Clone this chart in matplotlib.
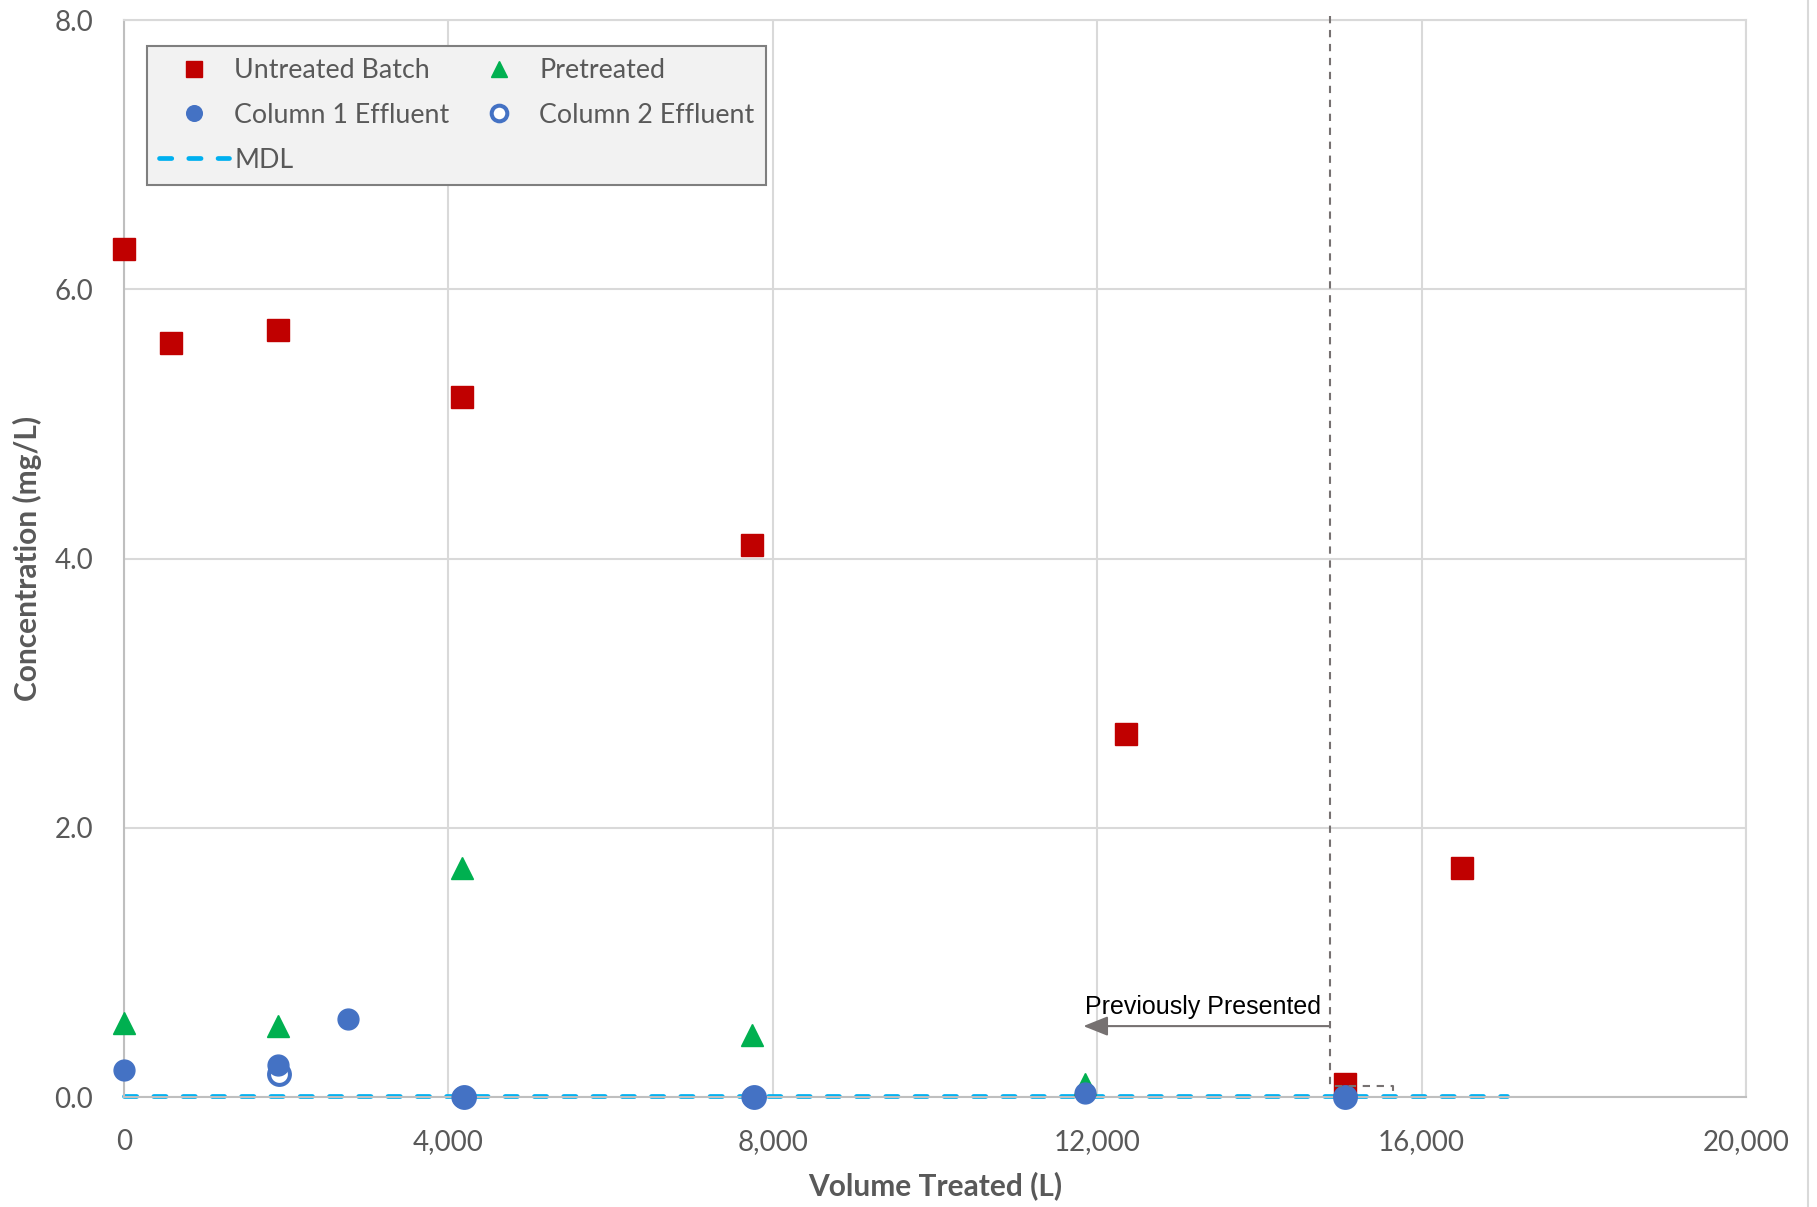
import matplotlib.pyplot as plt
from matplotlib.lines import Line2D
from matplotlib.ticker import FuncFormatter, MultipleLocator

plt.rcParams['font.family'] = ['Lato', 'DejaVu Sans']

# Untreated batch concentrations
untreated_x = [0, 580, 1900, 4170, 7750, 12350, 15050, 16500]
untreated_y = [6.3, 5.6, 5.7, 5.2, 4.1, 2.7, 0.1, 1.7]

# Pretreated
pretreated_x = [0, 1900, 4170, 7750, 11850]
pretreated_y = [0.55, 0.53, 1.7, 0.46, 0.1]

# Column effluents
col1_x = [0, 1900, 2760, 4170, 7750, 11850, 15050]
col1_y = [0.2, 0.24, 0.58, 0.0, 0.0, 0.03, 0.0]
col2_x = [1910, 4190, 7770, 15060]
col2_y = [0.17, 0.0, 0.0, 0.0]

# method detection limit
mdl_x = [0, 17050]
mdl_y = [0.01, 0.01]

# "previously presented" cutoff
cutoff_x = 14870
bracket_x = 15650

fig = plt.figure(figsize=(18.17, 12.07), dpi=100)
ax = fig.add_axes([0.0682, 0.0911, 0.8927, 0.8923])

grey_txt = '#595959'

ax.plot(mdl_x, mdl_y, color='#00b0f0', lw=3.4, dashes=(2.6, 3.6),
        dash_capstyle='round', label='MDL', zorder=2, clip_on=False)
ax.plot(untreated_x, untreated_y, ls='none', marker='s', ms=15.5,
        color='#c00000', label='Untreated Batch', zorder=3, clip_on=False)
ax.plot(pretreated_x, pretreated_y, ls='none', marker='^', ms=15.5,
        color='#00b050', label='Pretreated', zorder=3, clip_on=False)
ax.plot(col2_x, col2_y, ls='none', marker='o', ms=15, mfc='white',
        mec='#4472c4', mew=2.9, label='Column 2 Effluent', zorder=4, clip_on=False)
ax.plot(col1_x, col1_y, ls='none', marker='o', ms=15,
        color='#4472c4', label='Column 1 Effluent', zorder=5, clip_on=False)

# cutoff line with bracket
ax.plot([cutoff_x, cutoff_x, bracket_x, bracket_x], [8.03, 0.08, 0.08, 0.0],
        color='#767171', lw=1.5, dashes=(3.5, 3.2), zorder=6, clip_on=False)
ax.annotate('', xy=(11830, 0.527), xytext=(cutoff_x, 0.527),
            arrowprops=dict(arrowstyle='-|>,head_length=0.75,head_width=0.3',
                            color='#767171', lw=1.5, mutation_scale=20,
                            shrinkA=0, shrinkB=0), zorder=6)
ax.text(13305, 0.67, 'Previously Presented', ha='center', va='center',
        fontsize=18, family='Liberation Sans', color='black', zorder=6)

ax.set_xlim(0, 20000)
ax.set_ylim(0, 8)
ax.xaxis.set_major_locator(MultipleLocator(4000))
ax.yaxis.set_major_locator(MultipleLocator(2))
ax.xaxis.set_major_formatter(FuncFormatter(lambda v, p: f'{v:,.0f}'))
ax.yaxis.set_major_formatter(FuncFormatter(lambda v, p: f'{v:.1f}'))
ax.tick_params(length=0, labelsize=20, colors=grey_txt)
ax.tick_params(axis='y', pad=22)
ax.tick_params(axis='x', pad=23)
ax.grid(True, color='#d9d9d9', lw=1.5)
ax.set_axisbelow(True)
for side in ['top', 'right']:
    ax.spines[side].set_color('#d9d9d9')
    ax.spines[side].set_linewidth(1.5)
for side in ['left', 'bottom']:
    ax.spines[side].set_color('#bfbfbf')
    ax.spines[side].set_linewidth(1.5)

ax.set_xlabel('Volume Treated (L)', fontsize=21.5, fontweight='bold', color=grey_txt, labelpad=12)
ax.set_ylabel('Concentration (mg/L)', fontsize=21.5, fontweight='bold', color=grey_txt, labelpad=9)

handles, labels = ax.get_legend_handles_labels()
order = ['Untreated Batch', 'Column 1 Effluent', 'MDL', 'Pretreated', 'Column 2 Effluent']
h = [handles[labels.index(n)] for n in order]
leg = ax.legend(h, order, ncol=2, loc='upper left', bbox_to_anchor=(0.0142, 0.976),
                borderaxespad=0, fancybox=False, framealpha=1, facecolor='#f2f2f2',
                edgecolor='#7f7f7f', fontsize=19.3, handlelength=2.6, handletextpad=0.2,
                columnspacing=0.55, labelspacing=0.74, borderpad=0.45, markerscale=0.75)
leg.get_frame().set_linewidth(1.5)
for t in leg.get_texts():
    t.set_color(grey_txt)

fig.add_artist(Line2D([0.995, 0.995], [0, 1], color='#d9d9d9', lw=1.5,
                      transform=fig.transFigure))

fig.savefig('out.png', dpi=100)
